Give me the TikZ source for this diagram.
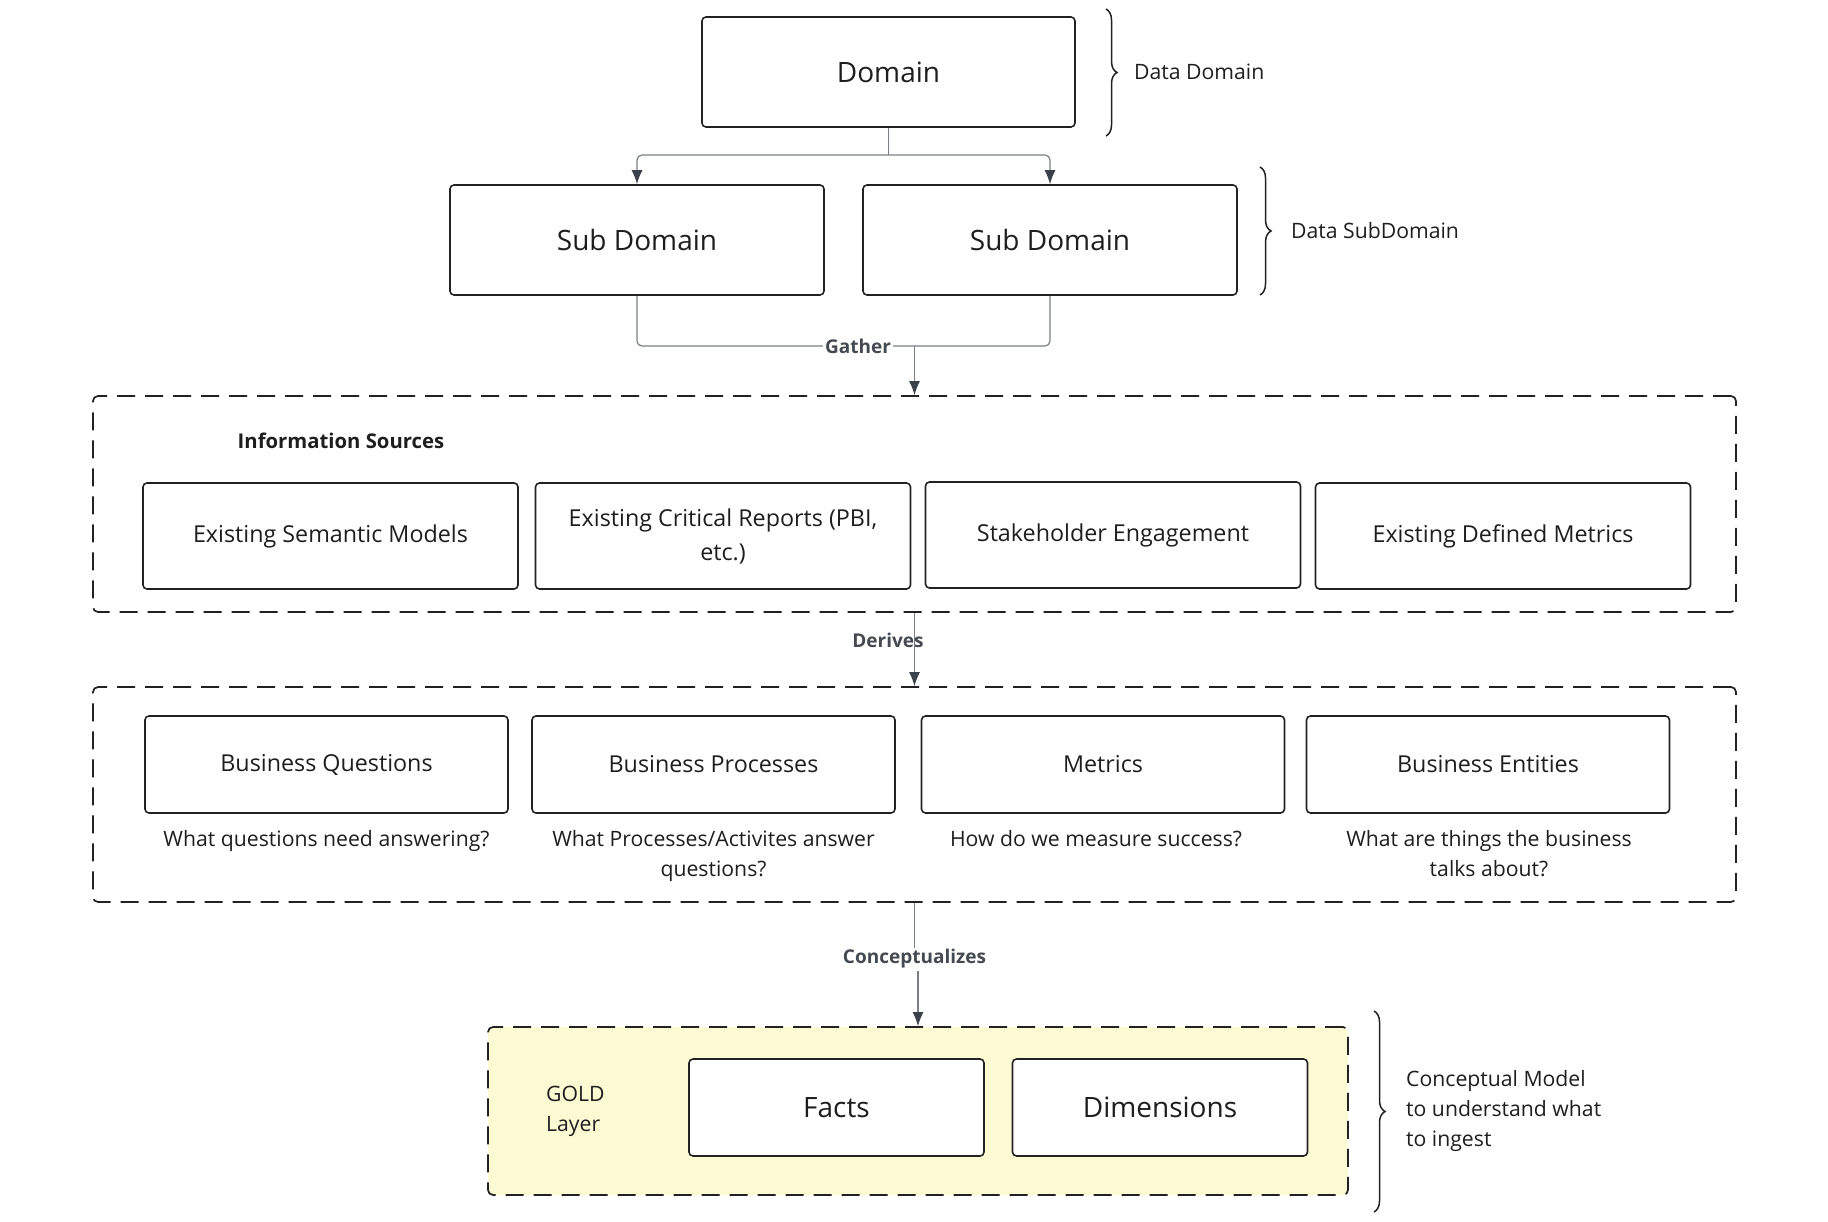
\documentclass[tikz,border=0pt]{standalone}
\usepackage{fontspec}
\setmainfont{Open Sans}
\usetikzlibrary{arrows.meta,decorations.pathreplacing}
\definecolor{txt}{HTML}{1E1E1E}
\definecolor{boxline}{HTML}{222222}
\definecolor{connc}{HTML}{7A7F87}
\definecolor{arrc}{HTML}{3B424C}
\definecolor{lblc}{HTML}{444A52}
\definecolor{goldfill}{HTML}{FCFAD2}
\tikzset{
  box/.style={draw=boxline, line width=1.6pt, rounded corners=4pt, fill=white, text=txt, align=center, inner sep=0pt},
  bigbox/.style={box, font=\fontsize{28}{34}\selectfont},
  midbox/.style={box, font=\fontsize{23.3}{34}\selectfont},
  frame/.style={draw=boxline, line width=1.7pt, dash pattern=on 18pt off 10pt, rounded corners=5pt, inner sep=0pt},
  conn/.style={draw=connc, line width=1.2pt, rounded corners=5pt},
  arr/.style={-{Latex[length=14pt,width=11pt,color=arrc]}},
  lbl/.style={text=lblc, font=\fontsize{19}{24}\selectfont\bfseries, inner sep=2pt},
  note/.style={text=txt, font=\fontsize{21.2}{30}\selectfont, align=left, anchor=west, inner sep=0pt},
  caption/.style={text=txt, font=\fontsize{21.2}{30}\selectfont, align=center, anchor=north, inner sep=0pt},
  bracestyle/.style={draw=boxline, line width=1.5pt, decorate, decoration={brace, amplitude=11pt}}
}
\begin{document}
\begin{tikzpicture}[x=1pt,y=-1pt]
\useasboundingbox (0,0) rectangle (1828,1222);

% frames
\node[frame, minimum width=1643pt, minimum height=216pt] (info) at (914.5,504) {};
\node[frame, minimum width=1643pt, minimum height=215pt] (der) at (914.5,794.5) {};
\node[frame, fill=goldfill, minimum width=860pt, minimum height=168pt] (gold) at (918,1111) {};

% top boxes
\node[bigbox, minimum width=373pt, minimum height=110pt] (dom) at (888.5,72) {Domain};
\node[bigbox, minimum width=374pt, minimum height=110pt] (sub1) at (637,240) {Sub Domain};
\node[bigbox, minimum width=374pt, minimum height=110pt] (sub2) at (1050,240) {Sub Domain};

% information sources
\node[text=txt, font=\fontsize{20.3}{24}\selectfont\bfseries] (infot) at (341,441) {Information Sources};
\node[midbox, minimum width=375pt, minimum height=106pt] (s1) at (330.5,536) {Existing Semantic Models};
\node[midbox, minimum width=375pt, minimum height=106pt] (s2) at (723,536) {Existing Critical Reports (PBI,\\etc.)};
\node[midbox, minimum width=375pt, minimum height=106pt] (s3) at (1113,535) {Stakeholder Engagement};
\node[midbox, minimum width=375pt, minimum height=106pt] (s4) at (1503,536) {Existing Defined Metrics};

% derived items
\node[midbox, minimum width=363pt, minimum height=97pt] (b1) at (326.5,764.5) {Business Questions};
\node[midbox, minimum width=363pt, minimum height=97pt] (b2) at (713.5,764.5) {Business Processes};
\node[midbox, minimum width=363pt, minimum height=97pt] (b3) at (1103,764.5) {Metrics};
\node[midbox, minimum width=363pt, minimum height=97pt] (b4) at (1488,764.5) {Business Entities};
\node[caption] (c1) at (326.5,830) {What questions need answering?};
\node[caption] (c2) at (713.5,830) {What Processes/Activites answer\\questions?};
\node[caption] (c3) at (1096,830) {How do we measure success?};
\node[caption] (c4) at (1489,830) {What are things the business\\talks about?};

% gold layer
\node[note] (goldt) at (546,1111) {GOLD\\Layer};
\node[bigbox, minimum width=295pt, minimum height=97pt] (facts) at (836.5,1107.5) {Facts};
\node[bigbox, minimum width=295pt, minimum height=97pt] (dims) at (1160,1107.5) {Dimensions};

% connectors
\coordinate (dj) at (888.5,155);
\draw[conn] (dom.south) -- (dj);
\draw[conn,arr] (dj) -| (sub1.north);
\draw[conn,arr] (dj) -| (sub2.north);

\coordinate (gj) at (914.5,346);
\draw[conn] (sub1.south) |- (gj);
\draw[conn] (sub2.south) |- (gj);
\draw[conn,arr] (gj) -- (info.north);
\node[lbl, fill=white] (gather) at (858,346) {Gather};

\draw[conn,arr] (info.south) -- (der.north);
\node[lbl] (derives) at (888,640) {Derives};

\coordinate (cj1) at (914.5,959);
\coordinate (cj2) at (918,959);
\draw[conn,arr,rounded corners=0pt] (der.south) -- (cj1) -- (cj2) -- (gold.north);
\node[lbl, fill=white] (concept) at (914.5,959) {Conceptualizes};

% braces
\coordinate (br1a) at (1106,9);
\coordinate (br1b) at (1106,136);
\draw[bracestyle] (br1a) -- (br1b);
\node[note] (dd) at (1134,72) {Data Domain};

\coordinate (br2a) at (1260,167);
\coordinate (br2b) at (1260,295);
\draw[bracestyle] (br2a) -- (br2b);
\node[note] (dsd) at (1291,231) {Data SubDomain};

\coordinate (br3a) at (1374,1011);
\coordinate (br3b) at (1374,1212);
\draw[bracestyle] (br3a) -- (br3b);
\node[note] (cm) at (1406,1111) {Conceptual Model\\to understand what\\to ingest};
\end{tikzpicture}
\end{document}
